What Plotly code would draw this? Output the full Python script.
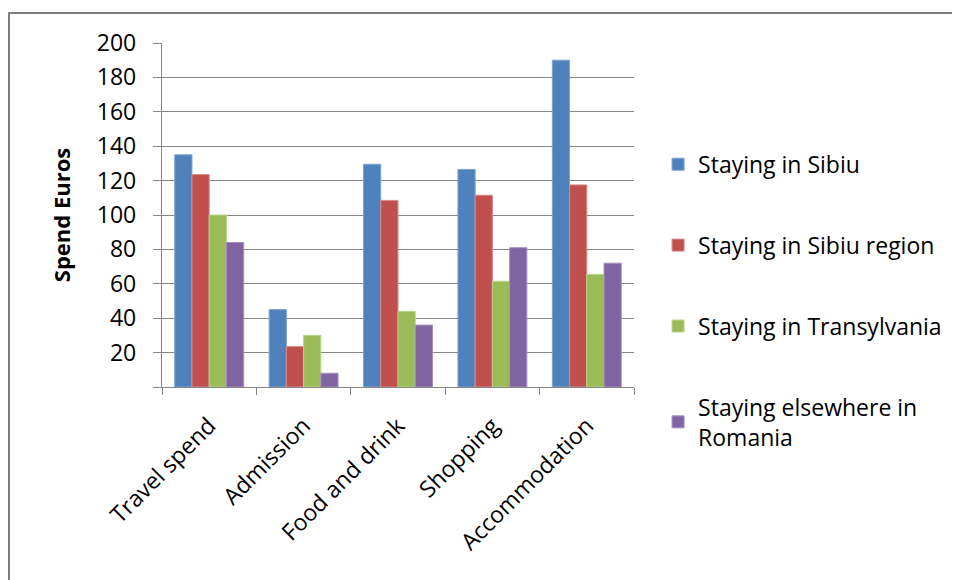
import plotly.graph_objects as go

categories = ["Travel spend", "Admission", "Food and drink", "Shopping", "Accommodation"]
series_names = ["Staying in Sibiu", "Staying in Sibiu region", "Staying in Transylvania",
                "Staying elsewhere in<br>Romania"]
sibiu = [135, 45, 129.5, 126.5, 190]
sibiu_region = [123.5, 23.5, 108.5, 111.5, 117.5]
transylvania = [100, 30, 44, 61.5, 65.5]
elsewhere = [84, 8, 36, 81, 72]
y_ticks = [0, 20, 40, 60, 80, 100, 120, 140, 160, 180, 200]
y_ticktext = ["", "20", "40", "60", "80", "100", "120", "140", "160", "180", "200"]

colors = ["#4F81BD", "#C0504D", "#9BBB59", "#8064A2"]
edges = ["#7EA3D6", "#D98A88", "#BAD48C", "#A48FC0"]
values = [sibiu, sibiu_region, transylvania, elsewhere]

FONT = "Open Sans"
FS = 23
fig = go.Figure()
for i, (name, vals) in enumerate(zip(series_names, values)):
    fig.add_trace(go.Bar(
        x=categories, y=vals, name=name,
        marker=dict(color=colors[i], line=dict(color=edges[i], width=1)),
        legendgroup=f"g{i}",
    ))

# page has an 8px body margin; figure is laid out in its own coordinates
L, T, W, H = 154, 35, 952, 572
PW, PH = 472, 344
fig.update_layout(
    width=W, height=H, autosize=False,
    margin=dict(l=L, r=W - L - PW, t=T, b=H - T - PH),
    paper_bgcolor="white", plot_bgcolor="white",
    barmode="group", bargap=0.27, bargroupgap=0,
    font=dict(family=FONT, size=FS, color="#000000"),
    showlegend=True,
    legend=dict(
        x=1.051, y=0.71, xanchor="left", yanchor="top",
        traceorder="grouped", tracegroupgap=48,
        font=dict(family=FONT, size=FS, color="#000000"),
        bgcolor="rgba(0,0,0,0)",
    ),
    xaxis=dict(
        showline=True, linecolor="#868686", linewidth=1.3,
        ticks="outside", ticklen=7, tickcolor="#868686", tickwidth=1.3,
        tickson="boundaries", tickangle=-45,
        showgrid=False, zeroline=False, ticklabelstandoff=15,
        tickfont=dict(family=FONT, size=FS, color="#000000"),
    ),
    yaxis=dict(
        range=[0, 200], tickvals=y_ticks, ticktext=y_ticktext,
        showline=True, linecolor="#868686", linewidth=1.3,
        ticks="outside", ticklen=8, tickcolor="#868686", tickwidth=1.3,
        showgrid=True, gridcolor="#868686", gridwidth=1.3,
        zeroline=False, ticklabelstandoff=12,
        tickfont=dict(family=FONT, size=FS, color="#000000"),
        title=dict(text="<b>Spend Euros</b>", standoff=20,
                   font=dict(family=FONT, size=22, color="#000000")),
    ),
    shapes=[dict(type="rect", xref="paper", yref="paper",
                 x0=(1 - L) / PW, x1=(W + 20 - L) / PW,
                 y0=-(H + 20 - T - PH) / PH, y1=(PH + T - 5) / PH,
                 line=dict(color="#808080", width=2), fillcolor="rgba(0,0,0,0)",
                 layer="below")],
)

fig.write_html("out.html")
